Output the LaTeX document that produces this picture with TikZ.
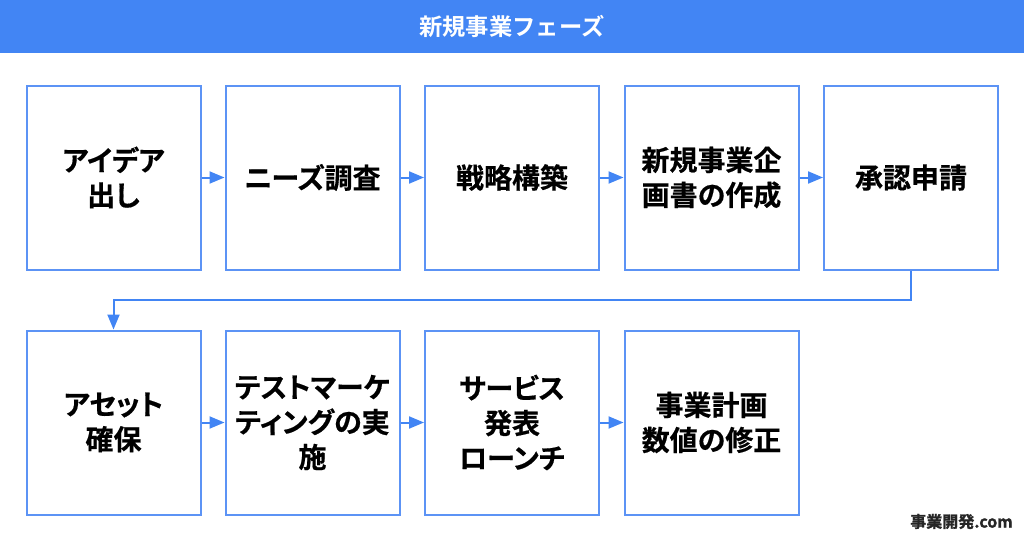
\documentclass[tikz,border=0pt]{standalone}
\usepackage{fontspec}
\setmainfont{Noto Sans CJK JP}[BoldFont={Noto Sans CJK JP Bold}]
\newfontfamily\boxfont{Noto Sans CJK JP Bold}[RawFeature={+palt}, FakeBold=0.5]
\newfontfamily\markfont{Noto Sans CJK JP Bold}[FakeBold=1.5]
\usepackage{tikz}
\usetikzlibrary{arrows.meta}
\definecolor{phaseblue}{HTML}{4285F4}
\definecolor{boxblue}{HTML}{5C93F5}
\tikzset{
  phasebox/.style={rectangle, minimum width=174.0pt, minimum height=184.0pt, fill=white, line width=2.0pt, draw=boxblue, align=center, text width=160pt, font=\boxfont\fontsize{28pt}{35pt}\selectfont, text=black},
  phasearrow/.style={line width=2.0pt, color=phaseblue, -{Triangle[length=15pt, width=12pt]}}
}
\begin{document}
\begin{tikzpicture}
[every node/.style={inner sep=0pt}]
\useasboundingbox (0pt, 0pt) rectangle (1024pt, -538pt);
\node (header) [rectangle, minimum width=1024pt, minimum height=53pt, fill=phaseblue] at (512pt, -26.5pt) {};
\node (title) [text=white, font=\bfseries\fontsize{23.3pt}{28pt}\selectfont] at (512pt, -26.5pt) {新規事業フェーズ};
\node (1) [phasebox] at (113.5pt, -177.5pt) {アイデア\\出し};
\node (2) [phasebox] at (312.5pt, -177.5pt) {ニーズ調査};
\node (3) [phasebox] at (512.0pt, -177.5pt) {戦略構築};
\node (4) [phasebox] at (711.5pt, -177.5pt) {新規事業企\\画書の作成};
\node (5) [phasebox] at (911.0pt, -177.5pt) {承認申請};
\node (6) [phasebox] at (113.5pt, -422.5pt) {アセット\\確保};
\node (7) [phasebox] at (312.5pt, -422.5pt) {テストマーケ\\ティングの実\\施};
\node (8) [phasebox] at (512.0pt, -422.5pt) {サービス\\発表\\ローンチ};
\node (9) [phasebox] at (711.5pt, -422.5pt) {事業計画\\数値の修正};
\coordinate (turn) at (512pt, -300pt);
\draw [phasearrow] (1) to (2);
\draw [phasearrow] (2) to (3);
\draw [phasearrow] (3) to (4);
\draw [phasearrow] (4) to (5);
\draw [phasearrow] (5.south) |- (turn) -| (6.north);
\draw [phasearrow] (6) to (7);
\draw [phasearrow] (7) to (8);
\draw [phasearrow] (8) to (9);
\node (mark) [text=black!85, font=\markfont\fontsize{16pt}{18pt}\selectfont] at (961.5pt, -521.5pt) {事業開発.com};
\end{tikzpicture}
\end{document}
